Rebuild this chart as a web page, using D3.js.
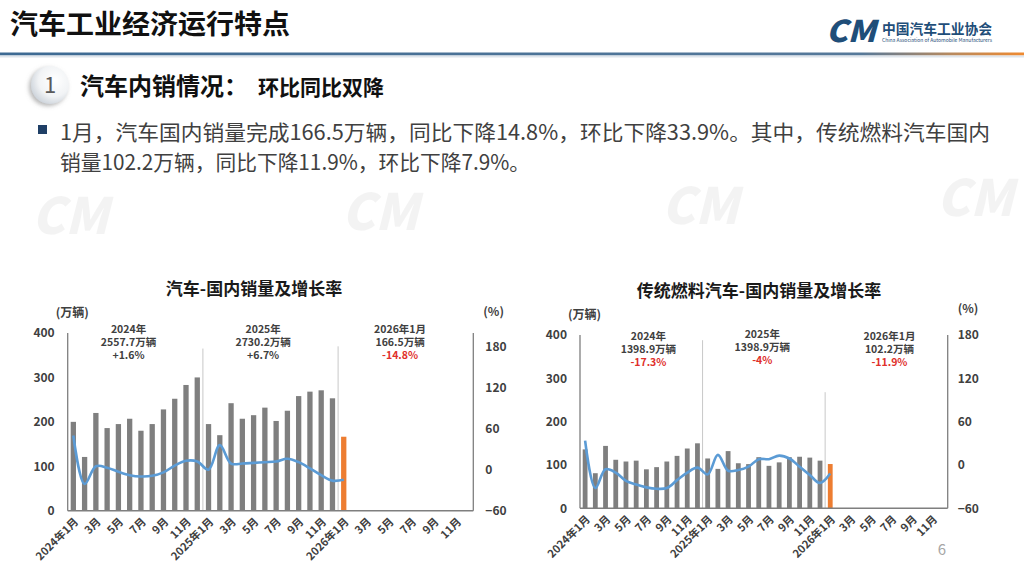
<!DOCTYPE html>
<html><head><meta charset="utf-8">
<script src="https://cdn.jsdelivr.net/npm/d3@7/dist/d3.min.js"></script>
<style>
body{margin:0;background:#fff;}
svg{display:block;}
text{font-family:"Noto Sans CJK SC","Noto Sans",sans-serif;}
</style>
</head><body>
<svg id="c" width="1024" height="575"></svg>
<script>
// ---------------- DATA ----------------
const months = ["2024-01","2024-02","2024-03","2024-04","2024-05","2024-06","2024-07","2024-08","2024-09","2024-10","2024-11","2024-12",
  "2025-01","2025-02","2025-03","2025-04","2025-05","2025-06","2025-07","2025-08","2025-09","2025-10","2025-11","2025-12",
  "2026-01","2026-02","2026-03","2026-04","2026-05","2026-06","2026-07","2026-08","2026-09","2026-10","2026-11","2026-12"];
const tickLabels = ["2024年1月","","3月","","5月","","7月","","9月","","11月","",
  "2025年1月","","3月","","5月","","7月","","9月","","11月","",
  "2026年1月","","3月","","5月","","7月","","9月","","11月",""];
const leftTicks = [0,100,200,300,400];
const rightTicks = [-60,0,60,120,180];

// 汽车 国内销量 (万辆) & 同比增长率 (%)
const totalSales  = [200,121,220,186,195,207,180,195,228,252,283,300,195,170,242,207,215,232,202,225,258,268,271,253,166.5];
const totalGrowth = [50,-21,5,3,-3,-8,-10,-9,-4,6,13,12,0,36,9,9,10,11,12,16,11,2,-8,-16,-14.8];
// 传统燃料汽车 国内销量 (万辆) & 同比增长率 (%)
const fuelSales   = [136,81,144,112,108,110,90,95,108,121,138,150,115,91,132,104,102,118,98,106,118,119,117,110,102.2];
const fuelGrowth  = [33.7,-32,-6,-10.6,-22,-27,-31,-33,-32,-21,-10.6,-3.7,-13,14,-8,-7,-2.3,8,8,13,9,-2.3,-14,-25,-11.9];

const totalNotes = [["2024年","2557.7万辆","+1.6%"],["2025年","2730.2万辆","+6.7%"],["2026年1月","166.5万辆","-14.8%"]];
const fuelNotes  = [["2024年","1398.9万辆","-17.3%"],["2025年","1398.9万辆","-4%"],["2026年1月","102.2万辆","-11.9%"]];

const bulletLines = ["1月，汽车国内销量完成166.5万辆，同比下降14.8%，环比下降33.9%。其中，传统燃料汽车国内",
                     "销量102.2万辆，同比下降11.9%，环比下降7.9%。"];

// ---------------- DRAW ----------------
const svg = d3.select("#c");
const defs = svg.append("defs");
const hg = defs.append("linearGradient").attr("id","hl").attr("x1","0").attr("x2","1");
hg.append("stop").attr("offset","0").attr("stop-color","#3d6a93");
hg.append("stop").attr("offset","0.84").attr("stop-color","#56799a");
hg.append("stop").attr("offset","0.93").attr("stop-color","#b98a5e");
hg.append("stop").attr("offset","1").attr("stop-color","#ef8a30");
const rg = defs.append("radialGradient").attr("id","cg").attr("cx","0.62").attr("cy","0.38").attr("r","0.7");
rg.append("stop").attr("offset","0").attr("stop-color","#ffffff");
rg.append("stop").attr("offset","0.6").attr("stop-color","#f1f3f5");
rg.append("stop").attr("offset","1").attr("stop-color","#c9d0d8");
const sh = defs.append("filter").attr("id","sh").attr("x","-50%").attr("y","-50%").attr("width","200%").attr("height","200%");
sh.append("feDropShadow").attr("dx",-2).attr("dy",2).attr("stdDeviation",2).attr("flood-color","#7a7a7a").attr("flood-opacity",0.55);

// faint logo watermarks in the empty band
const wm = svg.append("g").attr("fill","#000").attr("opacity",0.045);
[[70,234],[380,230],[700,224],[975,216]].forEach(p=>{
  wm.append("text").attr("x",p[0]).attr("y",p[1]).attr("text-anchor","middle").attr("font-size",50)
    .attr("font-weight",900).attr("font-style","italic").attr("font-family","DejaVu Sans").text("CM");
});

// header
svg.append("text").attr("x",10).attr("y",34).attr("font-size",27).attr("font-weight",700).attr("fill","#111")
  .attr("textLength",280).attr("lengthAdjust","spacingAndGlyphs").text("汽车工业经济运行特点");
svg.append("rect").attr("x",0).attr("y",52.5).attr("width",1024).attr("height",3).attr("fill","url(#hl)");
svg.append("rect").attr("x",0).attr("y",55.5).attr("width",1024).attr("height",2).attr("fill","#dfe5ec");
// logo
svg.append("text").attr("x",826).attr("y",42).attr("font-size",30).attr("font-weight",900).attr("font-style","italic")
  .attr("font-family","DejaVu Sans").attr("fill","#1f4e79").attr("textLength",50).attr("lengthAdjust","spacingAndGlyphs").text("CM");
svg.append("text").attr("x",882).attr("y",34).attr("font-size",14).attr("font-weight",700).attr("fill","#1f4e79")
  .attr("textLength",110).attr("lengthAdjust","spacingAndGlyphs").text("中国汽车工业协会");
svg.append("text").attr("x",882).attr("y",42).attr("font-size",5).attr("fill","#1f4e79")
  .attr("textLength",110).attr("lengthAdjust","spacingAndGlyphs").text("China Association of Automobile Manufacturers");

// section heading
svg.append("circle").attr("cx",50).attr("cy",85).attr("r",19).attr("fill","url(#cg)").attr("filter","url(#sh)");
svg.append("text").attr("x",50).attr("y",93).attr("text-anchor","middle").attr("font-size",22)
  .attr("font-family","Noto Sans").attr("fill","#5a5a5a").text("1");
svg.append("text").attr("x",80).attr("y",95).attr("font-size",24).attr("font-weight",700).attr("fill","#111")
  .text("汽车内销情况：");
svg.append("text").attr("x",258).attr("y",95).attr("font-size",21).attr("font-weight",700).attr("fill","#111")
  .text("环比同比双降");

// bullet
svg.append("rect").attr("x",38).attr("y",125).attr("width",9).attr("height",9).attr("fill","#1f3f66");
svg.append("text").attr("x",60).attr("y",140).attr("font-size",21).attr("fill","#404040")
  .attr("textLength",930).attr("lengthAdjust","spacingAndGlyphs").text(bulletLines[0]);
svg.append("text").attr("x",60).attr("y",170).attr("font-size",21).attr("fill","#404040")
  .attr("textLength",470).attr("lengthAdjust","spacingAndGlyphs").text(bulletLines[1]);

// page number
svg.append("text").attr("x",942).attr("y",555).attr("text-anchor","middle").attr("font-size",15)
  .attr("font-family","Noto Sans").attr("fill","#a6a6a6").text("6");

function drawChart(cfg){
  const g = svg.append("g");
  const x = d3.scaleBand().domain(months).range([cfg.x0,cfg.x1]).paddingInner(0.53).paddingOuter(0.265);
  const step = x.step();
  const cx = i => x(months[i]) + x.bandwidth()/2;
  const yL = d3.scaleLinear().domain([0,400]).range([cfg.yBot,cfg.yTop]);
  const yR = d3.scaleLinear().domain(cfg.rDomain).range([cfg.yBot,cfg.yTop]);
  const dark = "#404040";

  // title
  g.append("text").attr("x",cfg.titleX).attr("y",cfg.yTop-38).attr("text-anchor","middle").attr("font-size",17)
    .attr("font-weight",700).attr("fill","#1a1a1a").text(cfg.title);
  g.append("text").attr("x",cfg.x0-12).attr("y",cfg.yTop-16).attr("text-anchor","start").attr("font-size",12)
    .attr("font-weight",700).attr("fill",dark).text("(万辆)");
  g.append("text").attr("x",cfg.x1+10).attr("y",cfg.pctY).attr("text-anchor","start").attr("font-size",12)
    .attr("font-weight",700).attr("fill",dark).text("(%)");

  // separators
  [12,24].forEach((k,j)=>{
    const sx = cfg.x0 + step*k;
    g.append("line").attr("x1",sx).attr("x2",sx).attr("y1",yL(cfg.sepTop[j])).attr("y2",cfg.yBot)
      .attr("stroke","#c8c8c8").attr("stroke-width",1);
  });

  // bars
  g.append("g").selectAll("rect").data(cfg.sales).join("rect")
    .attr("x",(d,i)=>x(months[i])).attr("y",d=>yL(d))
    .attr("width",x.bandwidth()).attr("height",d=>yL(0)-yL(d))
    .attr("fill",(d,i)=> i===24 ? "#ED7D31" : "#7F7F7F");

  // line
  const line = d3.line().x((d,i)=>cx(i)).y(d=>yR(d)).curve(d3.curveCatmullRom.alpha(0.5));
  g.append("path").datum(cfg.growth).attr("d",line).attr("fill","none")
    .attr("stroke","#5B9BD5").attr("stroke-width",2.6).attr("stroke-linejoin","round");

  // axes lines
  g.append("line").attr("x1",cfg.x0).attr("x2",cfg.x0).attr("y1",cfg.yTop).attr("y2",cfg.yBot).attr("stroke","#7f7f7f").attr("stroke-width",1.3);
  g.append("line").attr("x1",cfg.x1).attr("x2",cfg.x1).attr("y1",cfg.yTop).attr("y2",cfg.yBot).attr("stroke","#7f7f7f").attr("stroke-width",1.3);
  g.append("line").attr("x1",cfg.x0).attr("x2",cfg.x1).attr("y1",cfg.yBot).attr("y2",cfg.yBot).attr("stroke","#7f7f7f").attr("stroke-width",1.5);

  const la = g.append("g").attr("transform",`translate(${cfg.x0},0)`)
    .call(d3.axisLeft(yL).tickValues(leftTicks).tickSize(0).tickPadding(13));
  const ra = g.append("g").attr("transform",`translate(${cfg.x1},0)`)
    .call(d3.axisRight(yR).tickValues(rightTicks).tickSize(0).tickPadding(cfg.rPad));
  [la,ra].forEach(a=>{
    a.select(".domain").remove();
    a.selectAll("text").attr("font-size",12).attr("font-weight",700).attr("fill",dark)
      .attr("font-family","\"Noto Sans CJK SC\",\"Noto Sans\",sans-serif");
  });

  // x labels
  g.append("g").selectAll("text").data(tickLabels.map((t,i)=>({t,i})).filter(d=>d.t)).join("text")
    .attr("transform",d=>`translate(${cx(d.i)+3},${cfg.yBot+9}) rotate(-45)`)
    .attr("text-anchor","end").attr("dy","0.35em").attr("font-size",11).attr("font-weight",700)
    .attr("fill",dark).text(d=>d.t);

  // annotations (three tight lines per period)
  cfg.notes.forEach((lines,k)=>{
    const nx = cfg.x0 + step*cfg.noteBands[k];
    lines.forEach((s,j)=>{
      const neg = j===2 && s.startsWith("-");
      g.append("text").attr("x",nx).attr("y",cfg.noteY[k] + 3.5 + j*13).attr("text-anchor","middle")
        .attr("font-family","\"Liberation Sans\",\"Noto Sans CJK SC\",sans-serif")
        .attr("font-size",10.5).attr("font-weight",700)
        .attr("fill",neg ? "#e0302b" : dark).text(s);
    });
  });
}

drawChart({title:"汽车-国内销量及增长率", titleX:254, x0:67.7, x1:473.3, yTop:333, yBot:510.7,
  rDomain:[-60,200], rPad:12, pctY:316, sales:totalSales, growth:totalGrowth, notes:totalNotes,
  noteBands:[5.4,17.35,29.5], noteY:[329.3,329.3,329.3], sepTop:[365,370]});
drawChart({title:"传统燃料汽车-国内销量及增长率", titleX:759, x0:580, x1:947.7, yTop:335, yBot:508.3,
  rDomain:[-60,180], rPad:10, pctY:313, sales:fuelSales, growth:fuelGrowth, notes:fuelNotes,
  noteBands:[6.7,17.85,30.3], noteY:[336.7,334,336.7], sepTop:[388,268]});
</script>
</body></html>
